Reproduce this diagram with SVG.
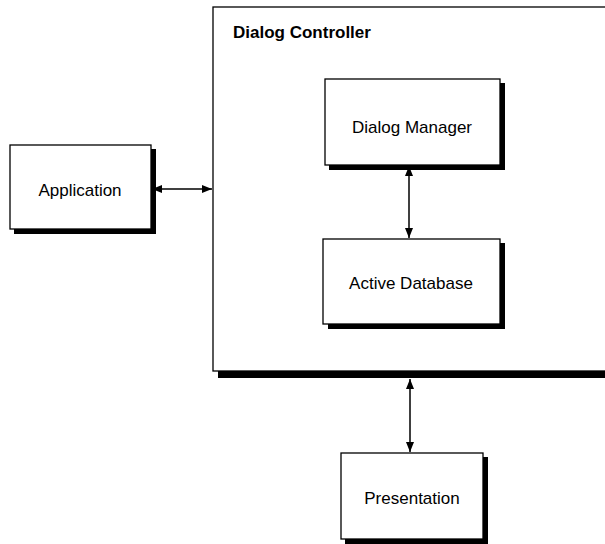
<svg xmlns="http://www.w3.org/2000/svg" width="605" height="544" viewBox="0 0 605 544">
  <style>
    .box { fill: #fff; stroke: #000; stroke-width: 1.3; }
    .shadow { fill: #000; }
    .label { font-family: "Liberation Sans", Arial, sans-serif; font-size: 17px; fill: #000; text-anchor: middle; }
    .title { font-family: "Liberation Sans", Arial, sans-serif; font-size: 17px; font-weight: bold; fill: #000; }
    .conn { stroke: #000; stroke-width: 1.5; fill: none; marker-start: url(#head); marker-end: url(#head); }
  </style>
  <defs>
    <marker id="head" viewBox="0 0 10 8" refX="10" refY="4" markerWidth="10" markerHeight="8" markerUnits="userSpaceOnUse" orient="auto-start-reverse">
      <path d="M0,0 L10,4 L0,8 Z" fill="#000"/>
    </marker>
  </defs>
  <rect width="605" height="544" fill="#fff"/>

  <!-- outer controller frame -->
  <g id="dialog-controller">
    <rect class="shadow" x="218" y="12" width="400" height="366"/>
    <rect class="box" x="213" y="7" width="400" height="364"/>
    <text class="title" x="233" y="38">Dialog Controller</text>
  </g>

  <g id="application">
    <rect class="shadow" x="14" y="149" width="142" height="85"/>
    <rect class="box" x="10" y="145" width="141" height="84"/>
    <text class="label" x="80" y="196">Application</text>
  </g>

  <g id="dialog-manager">
    <rect class="shadow" x="329" y="83" width="176" height="87"/>
    <rect class="box" x="325" y="79" width="175" height="86"/>
    <text class="label" x="412" y="133">Dialog Manager</text>
  </g>

  <g id="active-database">
    <rect class="shadow" x="328" y="243" width="177" height="86"/>
    <rect class="box" x="323" y="239" width="177" height="85"/>
    <text class="label" x="411" y="289">Active Database</text>
  </g>

  <g id="presentation">
    <rect class="shadow" x="345" y="457" width="143" height="87"/>
    <rect class="box" x="341" y="453" width="142" height="86"/>
    <text class="label" x="412" y="504">Presentation</text>
  </g>

  <g id="connectors">
    <line class="conn" x1="152" y1="189" x2="212" y2="189"/>
    <line class="conn" x1="409" y1="166" x2="409" y2="238"/>
    <line class="conn" x1="410" y1="379" x2="410" y2="452"/>
  </g>
</svg>
